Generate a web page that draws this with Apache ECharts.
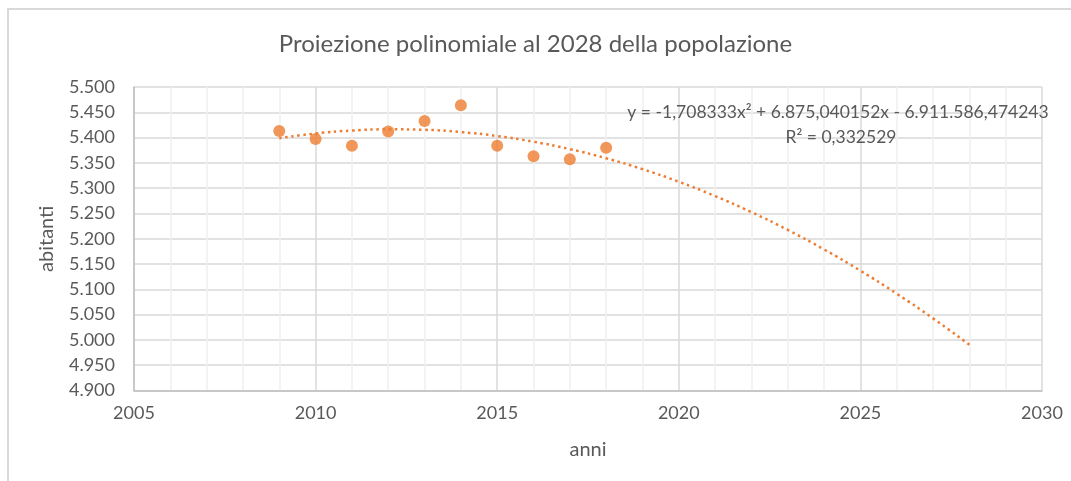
<!DOCTYPE html>
<html>
<head>
<meta charset="utf-8">
<title>Proiezione polinomiale al 2028 della popolazione</title>
<script src="https://cdn.jsdelivr.net/npm/echarts@6/dist/echarts.min.js"></script>
<style>
  html, body { margin: 0; padding: 0; background: #fff; }
  #chart { width: 1071px; height: 481px; }
</style>
</head>
<body>
<div id="chart"></div>
<script>
// Popolazione residente per anno
const anni = [2009, 2010, 2011, 2012, 2013, 2014, 2015, 2016, 2017, 2018];
const abitanti = [5413, 5397, 5384, 5412, 5433, 5464, 5384, 5363, 5357, 5380];

// Linea di tendenza polinomiale (2° grado): y = a·x² + b·x + c
const trendCoef = [-1.708333, 6875.040152, -6911586.474243];
const trendAnni = [2009, 2010, 2011, 2012, 2013, 2014, 2015, 2016, 2017, 2018,
                   2019, 2020, 2021, 2022, 2023, 2024, 2025, 2026, 2027, 2028];

const titolo = 'Proiezione polinomiale al 2028 della popolazione';
const equazione = 'y = -1,708333x² + 6.875,040152x - 6.911.586,474243';
const erre2 = 'R² = 0,332529';

const FONT = 'Lato, "Open Sans", sans-serif';
const GREY = '#595959';
const ORANGE = '#ED7D31';

function trend(x) {
  const [a, b, c] = trendCoef;
  return (a * x + b) * x + c;
}

// separatore delle migliaia all'italiana: 5500 -> "5.500"
function migliaia(v) {
  const s = String(Math.round(v));
  return s.length > 3 ? s.slice(0, -3) + '.' + s.slice(-3) : s;
}

const chart = echarts.init(document.getElementById('chart'), null, { renderer: 'canvas' });

chart.setOption({
  backgroundColor: '#fff',
  animation: false,
  title: {
    text: titolo,
    left: 'center',
    top: 27,
    textStyle: { fontFamily: FONT, fontSize: 24, fontWeight: 'normal', color: GREY }
  },
  grid: { left: 134, right: 29, top: 87, bottom: 90.5, containLabel: false },
  xAxis: {
    type: 'value',
    min: 2005,
    max: 2030,
    interval: 5,
    name: 'anni',
    nameLocation: 'middle',
    nameGap: 49,
    nameTextStyle: { fontFamily: FONT, fontSize: 20, color: GREY },
    axisLine: { show: true, onZero: false, lineStyle: { color: '#bfbfbf', width: 1.5 } },
    axisTick: { show: false },
    axisLabel: { fontFamily: FONT, fontSize: 18, color: GREY, margin: 14, formatter: v => String(v) },
    splitLine: { show: true, lineStyle: { color: '#d9d9d9', width: 1.5 } },
    minorTick: { show: false, splitNumber: 5 },
    minorSplitLine: { show: true, lineStyle: { color: '#f0f0f0', width: 1.5 } }
  },
  yAxis: {
    type: 'value',
    min: 4900,
    max: 5500,
    interval: 50,
    name: 'abitanti',
    nameLocation: 'middle',
    nameGap: 77,
    nameRotate: 90,
    nameTextStyle: { fontFamily: FONT, fontSize: 20, color: GREY },
    axisLine: { show: true, lineStyle: { color: '#bfbfbf', width: 1.5 } },
    axisTick: { show: false },
    axisLabel: { fontFamily: FONT, fontSize: 18, color: GREY, margin: 19, formatter: migliaia },
    splitLine: { show: true, lineStyle: { color: '#d9d9d9', width: 1.5 } }
  },
  series: [
    {
      name: 'abitanti',
      type: 'scatter',
      data: anni.map((x, i) => [x, abitanti[i]]),
      symbol: 'circle',
      symbolSize: 12,
      itemStyle: { color: ORANGE },
      z: 2
    },
    {
      name: 'Poli. (abitanti)',
      type: 'line',
      data: trendAnni.map(x => [x, trend(x)]),
      smooth: true,
      showSymbol: false,
      symbol: 'none',
      lineStyle: { color: ORANGE, width: 2.5, type: [2.5, 3.6], cap: 'butt' },
      z: 3
    }
  ],
  graphic: [
    {
      type: 'rect',
      shape: { x: 8, y: 9, width: 1200, height: 600 },
      style: { fill: 'none', stroke: '#d9d9d9', lineWidth: 2 },
      silent: true,
      z: -10
    },
    {
      type: 'text',
      x: 838, y: 112,
      style: { text: equazione, fontFamily: FONT, fontSize: 17.5, fill: GREY, align: 'center', verticalAlign: 'middle' },
      z: 10
    },
    {
      type: 'text',
      x: 841, y: 137,
      style: { text: erre2, fontFamily: FONT, fontSize: 17.5, fill: GREY, align: 'center', verticalAlign: 'middle' },
      z: 10
    }
  ]
});
</script>
</body>
</html>
